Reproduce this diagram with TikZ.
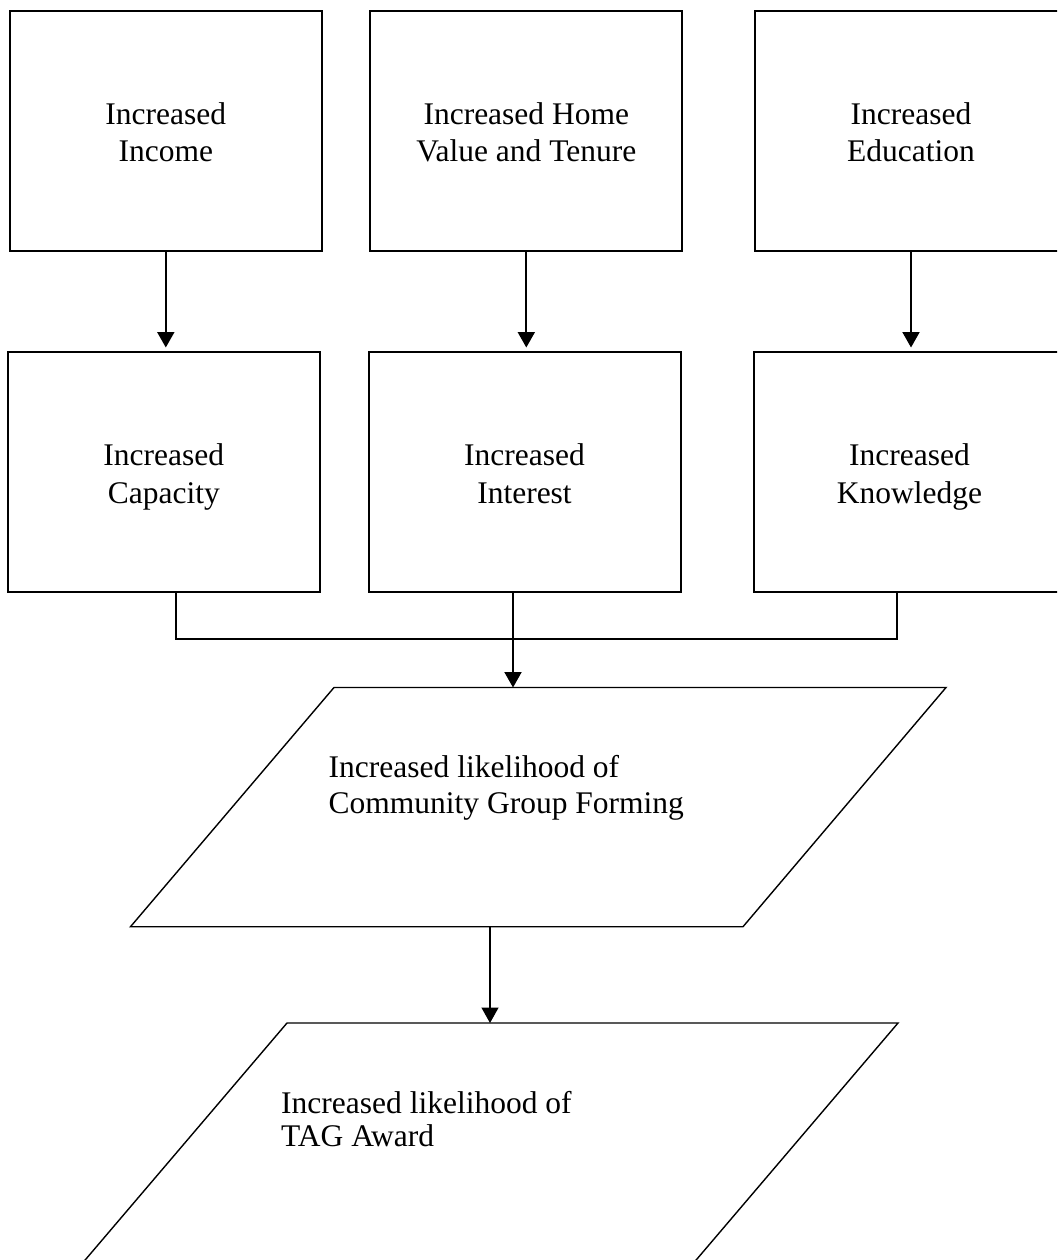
\documentclass[tikz,border=0pt]{standalone}
\usepackage{fontspec}
\setmainfont{Liberation Serif}
\usetikzlibrary{arrows.meta}
\begin{document}
\begin{tikzpicture}[x=1pt,y=-1pt,
  box/.style={draw, line width=2pt, minimum width=312pt, minimum height=240pt, inner sep=0pt, outer sep=0pt},
  lbl/.style={font=\fontsize{31.5}{37.2}\selectfont, inner sep=0pt, anchor=base},
  plbl/.style={inner sep=0pt, anchor=base west},
  conn/.style={line width=2pt},
  arr/.style={conn, -{Triangle[width=17pt,length=15.5pt]}},
  thinarr/.style={line width=1.4pt, -{Triangle[width=17pt,length=15.5pt]}},
  pline/.style={draw, line width=1.4pt, line join=miter}]
\useasboundingbox (0,0) rectangle (1057,1260);
\clip (0,0) rectangle (1057,1260);
% top row
\node[box] (inc)  at (165.8,131) {};
\node[box] (home) at (526.3,131) {};
\node[box] (edu)  at (911,131) {};
% middle row
\node[box] (cap)  at (163.8,471.5) {};
\node[box] (int)  at (524.5,471.5) {};
\node[box] (know) at (909.5,471.5) {};
% labels
\node[lbl] (tinc)  at (165.8,124.3) {\begin{tabular}[t]{@{}c@{}}Increased\\Income\end{tabular}};
\node[lbl] (thome) at (526.3,124.3) {\begin{tabular}[t]{@{}c@{}}Increased Home\\Value and Tenure\end{tabular}};
\node[lbl] (tedu)  at (911,124.3) {\begin{tabular}[t]{@{}c@{}}Increased\\Education\end{tabular}};
\node[lbl] (tcap)  at (163.8,465.8) {\begin{tabular}[t]{@{}c@{}}Increased\\Capacity\end{tabular}};
\node[lbl] (tint)  at (524.5,465.8) {\begin{tabular}[t]{@{}c@{}}Increased\\Interest\end{tabular}};
\node[lbl] (tknow) at (909.5,465.8) {\begin{tabular}[t]{@{}c@{}}Increased\\Knowledge\end{tabular}};
% arrows top -> middle
\draw[arr, shorten >=4pt] (inc.south)  -- (inc.south |- cap.north);
\draw[arr, shorten >=4pt] (home.south) -- (home.south |- int.north);
\draw[arr, shorten >=4pt] (edu.south)  -- (edu.south |- know.north);
% join
\coordinate (j1) at (176,638.7);
\coordinate (j2) at (513,638.7);
\coordinate (j3) at (897,638.7);
\draw[conn] (cap.south -| j1) -- (j1) -- (j3) -- (know.south -| j3);
\draw[conn] (int.south -| j2) -- (j2);
% parallelogram 1
\coordinate (p1top) at (513,687.5);
\coordinate (p1bot) at (490,926.7);
\draw[pline] (334,687.5) -- (946,687.5) -- (743,926.7) -- (130.5,926.7) -- cycle;
\node[plbl, font=\fontsize{31.5}{35.6}\selectfont] (tp1) at (328.5,777.7)
  {\begin{tabular}[t]{@{}l@{}}Increased likelihood of\\Community Group Forming\end{tabular}};
\draw[arr] (j2) -- (p1top);
% parallelogram 2
\coordinate (p2top) at (490,1023);
\draw[pline] (287,1023) -- (898,1023) -- (694,1262.5) -- (83,1262.5) -- cycle;
\node[plbl, font=\fontsize{31.5}{33.4}\selectfont] (tp2) at (281,1113.3)
  {\begin{tabular}[t]{@{}l@{}}Increased likelihood of\\TAG Award\end{tabular}};
\draw[thinarr] (p1bot) -- (p2top);
\end{tikzpicture}
\end{document}
